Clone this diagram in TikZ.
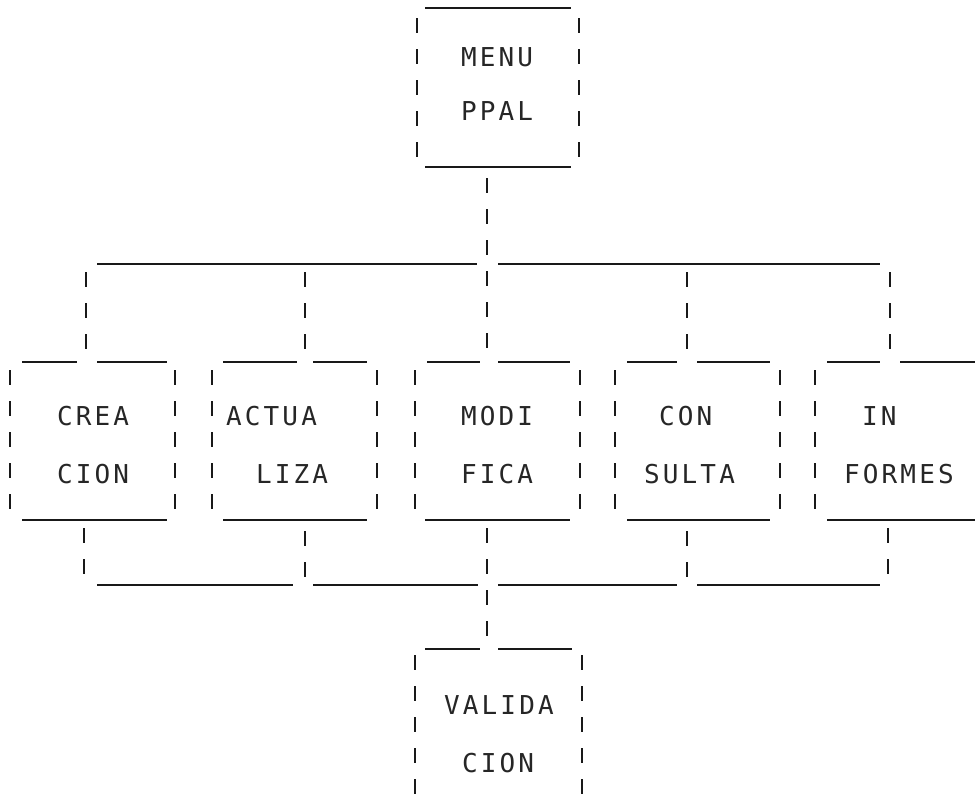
\documentclass[tikz,border=0pt]{standalone}
\usepackage{fontspec}
\newfontfamily\dotfont[LetterSpace=12]{DejaVu Sans Mono}
\begin{document}
\begin{tikzpicture}[x=1pt,y=-1pt,
  hl/.style={line width=1.9pt, black!90},
  vl/.style={line width=2.6pt, black!90, dash pattern=on 15pt off 16pt},
  lbl/.style={font=\dotfont\fontsize{26}{26}\selectfont, text=black!85, inner sep=0pt, anchor=west}]
\useasboundingbox (0,0) rectangle (978,809);

% ---------- MENU PPAL ----------
\draw[hl] (425,8) -- (571,8);
\draw[vl] (417,18) -- (417,157);
\draw[vl] (579,18) -- (579,157);
\draw[hl] (425,167) -- (571,167);
\node[lbl] (menu) at (461,57) {MENU};
\node[lbl] (ppal) at (461,111) {PPAL};

% ---------- distribution line ----------
\coordinate (top) at (487,178);
\coordinate (hub) at (487,348);
\draw[vl] (top) -- (hub);
\draw[hl] (97,264) -- (477,264);
\draw[hl] (498,264) -- (880,264);
\coordinate (c1) at (86,272);  \coordinate (c1b) at (86,349);
\coordinate (c2) at (305,272); \coordinate (c2b) at (305,349);
\coordinate (c4) at (687,272); \coordinate (c4b) at (687,349);
\coordinate (c5) at (890,272); \coordinate (c5b) at (890,349);
\draw[vl] (c1) -- (c1b);
\draw[vl] (c2) -- (c2b);
\draw[vl] (c4) -- (c4b);
\draw[vl] (c5) -- (c5b);

% ---------- row of boxes: tops ----------
\draw[hl] (22,362) -- (77,362);   \draw[hl] (97,362) -- (167,362);
\draw[hl] (223,362) -- (297,362); \draw[hl] (313,362) -- (367,362);
\draw[hl] (427,362) -- (480,362); \draw[hl] (498,362) -- (570,362);
\draw[hl] (627,362) -- (677,362); \draw[hl] (697,362) -- (770,362);
\draw[hl] (827,362) -- (880,362); \draw[hl] (900,362) -- (975,362);
% bottoms
\draw[hl] (22,520) -- (167,520);
\draw[hl] (223,520) -- (367,520);
\draw[hl] (425,520) -- (570,520);
\draw[hl] (627,520) -- (770,520);
\draw[hl] (827,520) -- (975,520);
% sides
\foreach \x in {10,175,212,377,415,580,615,780,815}
  \draw[vl] (\x,370) -- (\x,509);

% texts
\node[lbl] (crea)  at (57,416)  {CREA};
\node[lbl] (cion)  at (57,474)  {CION};
\node[lbl] (actua) at (226,416) {ACTUA};
\node[lbl] (liza)  at (256,474) {LIZA};
\node[lbl] (modi)  at (461,416) {MODI};
\node[lbl] (fica)  at (461,474) {FICA};
\node[lbl] (con)   at (659,416) {CON};
\node[lbl] (sulta) at (644,474) {SULTA};
\node[lbl] (in)    at (862,416) {IN};
\node[lbl] (formes) at (844,474) {FORMES};

% ---------- collecting line ----------
\coordinate (d1) at (84,528);  \coordinate (d1b) at (84,574);
\coordinate (d2) at (305,531); \coordinate (d2b) at (305,577);
\coordinate (d3) at (487,528); \coordinate (d3b) at (487,636);
\coordinate (d4) at (687,531); \coordinate (d4b) at (687,577);
\coordinate (d5) at (888,528); \coordinate (d5b) at (888,574);
\draw[vl] (d1) -- (d1b);
\draw[vl] (d2) -- (d2b);
\draw[vl] (d3) -- (d3b);
\draw[vl] (d4) -- (d4b);
\draw[vl] (d5) -- (d5b);
\draw[hl] (97,585) -- (293,585);
\draw[hl] (313,585) -- (478,585);
\draw[hl] (498,585) -- (677,585);
\draw[hl] (697,585) -- (880,585);

% ---------- VALIDA CION ----------
\draw[hl] (425,649) -- (480,649);
\draw[hl] (498,649) -- (572,649);
\draw[vl] (415,655) -- (415,809);
\draw[vl] (582,655) -- (582,809);
\node[lbl] (valida) at (444,705) {VALIDA};
\node[lbl] (cion2)  at (462,763) {CION};
\end{tikzpicture}
\end{document}
